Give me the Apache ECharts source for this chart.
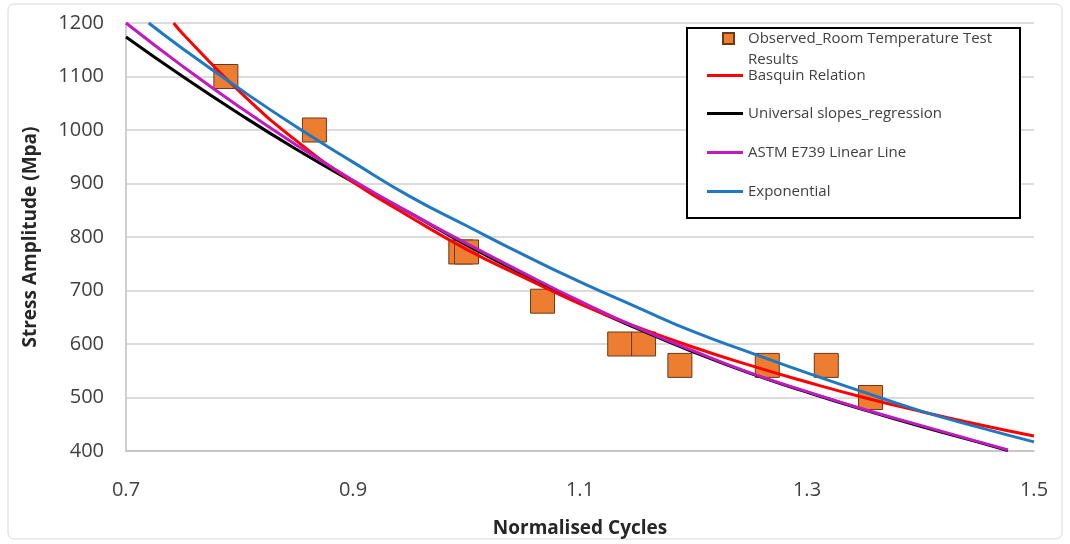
<!DOCTYPE html>
<html>
<head>
<meta charset="utf-8">
<script src="https://cdn.jsdelivr.net/npm/echarts@6/dist/echarts.min.js"></script>
<style>
html,body{margin:0;padding:0;background:#fff;}
#c{width:1070px;height:544px;}
</style>
</head>
<body>
<div id="c"></div>
<script>
// ---- data ----
const xTickLabels = ['0.7', '0.9', '1.1', '1.3', '1.5'];
const obsX = [0.788, 0.866, 0.995, 1.0, 1.067, 1.135, 1.156, 1.188, 1.265, 1.317, 1.356];
const obsY = [1100, 1000, 772, 772, 680, 600, 600, 560, 560, 560, 500];

const basquinX = [0.742, 0.75, 0.80, 0.85, 0.90, 0.95, 1.00, 1.05, 1.10, 1.15, 1.20, 1.25, 1.30, 1.35, 1.40, 1.45, 1.50];
const basquinY = [1200, 1180, 1072, 980, 903, 838, 777, 725, 675, 632, 594, 560, 529, 500, 474, 450, 428];

const universalX = [0.70, 0.75, 0.80, 0.85, 0.90, 0.95, 1.00, 1.05, 1.10, 1.15, 1.20, 1.25, 1.30, 1.35, 1.40, 1.45, 1.477];
const universalY = [1174, 1100, 1030, 964, 903, 845, 785, 730, 677, 629, 585, 545, 510, 477, 446, 417, 401];

const astmX = [0.70, 0.75, 0.80, 0.85, 0.90, 0.95, 1.00, 1.05, 1.10, 1.15, 1.20, 1.25, 1.30, 1.35, 1.40, 1.45, 1.477];
const astmY = [1200, 1119, 1043, 972, 906, 845, 788, 733, 680, 631, 587, 546, 511, 478, 448, 418, 402];

const expoX = [0.72, 0.75, 0.80, 0.85, 0.90, 0.95, 1.00, 1.05, 1.10, 1.15, 1.20, 1.25, 1.30, 1.35, 1.40, 1.45, 1.50];
const expoY = [1200, 1152, 1077, 1006, 940, 876, 821, 767, 716, 669, 623, 584, 546, 510, 475, 445, 417];

const names = ['Observed_Room Temperature Test\nResults', 'Basquin Relation', 'Universal slopes_regression', 'ASTM E739 Linear Line', 'Exponential'];

function pairs(xs, ys) { return xs.map((x, i) => [x, ys[i]]); }

const FONT = '"Open Sans", Lato, sans-serif';
const chart = echarts.init(document.getElementById('c'), null, {renderer: 'canvas'});

function lineSeries(name, xs, ys, color, z) {
  return {
    name: name, type: 'line', data: pairs(xs, ys), smooth: 0.5,
    showSymbol: false, symbol: 'none', z: z,
    lineStyle: {color: color, width: 3},
    itemStyle: {color: color},
    emphasis: {disabled: true}
  };
}

function lineLegend(name, top) {
  return {
    data: [name], left: 707, top: top, orient: 'vertical',
    icon: 'rect', itemWidth: 36, itemHeight: 3, itemGap: 0, padding: 0, z: 10,
    textStyle: {fontFamily: FONT, fontSize: 15, color: '#404040'},
    selectedMode: false
  };
}

const option = {
  animation: false,
  backgroundColor: '#fff',
  grid: {left: 126, right: 36, top: 23, bottom: 93, containLabel: false},
  graphic: [
    {type: 'rect', shape: {x: 8, y: 4, width: 1054, height: 535, r: 6}, style: {fill: 'none', stroke: '#d9d9d9', lineWidth: 1}, z: -10},
    {type: 'rect', shape: {x: 687, y: 28, width: 333, height: 190}, style: {fill: '#fff', stroke: '#000', lineWidth: 2}, z: 3}
  ],
  legend: [
    {
      data: [names[0]], left: 722, top: 7, orient: 'vertical', z: 10,
      icon: 'rect', itemWidth: 11, itemHeight: 11, padding: 0,
      formatter: function (n) { return ' \n' + n; },
      textStyle: {fontFamily: FONT, fontSize: 15, color: '#404040', lineHeight: 21, padding: [0, 0, 0, 9]},
      selectedMode: false
    },
    lineLegend(names[1], 68),
    lineLegend(names[2], 106),
    lineLegend(names[3], 145),
    lineLegend(names[4], 184)
  ],
  xAxis: {
    type: 'value', min: 0.7, max: 1.5, interval: 0.1,
    name: 'Normalised Cycles', nameLocation: 'middle', nameGap: 68,
    nameTextStyle: {fontFamily: FONT, fontSize: 19, fontWeight: 'bold', color: '#262626'},
    axisLine: {show: true, lineStyle: {color: '#bfbfbf', width: 1.5}},
    axisTick: {show: false},
    splitLine: {show: false},
    axisLabel: {
      margin: 29, fontFamily: FONT, fontSize: 20, color: '#404040',
      formatter: function (v) { const s = v.toFixed(1); return xTickLabels.indexOf(s) >= 0 ? s : ''; }
    }
  },
  yAxis: {
    type: 'value', min: 400, max: 1200, interval: 100,
    name: 'Stress Amplitude (Mpa)', nameLocation: 'middle', nameGap: 86,
    nameTextStyle: {fontFamily: FONT, fontSize: 19, fontWeight: 'bold', color: '#262626'},
    axisLine: {show: true, lineStyle: {color: '#bfbfbf', width: 1.5}},
    axisTick: {show: false},
    splitLine: {show: true, lineStyle: {color: '#d0d0d0', width: 1.5}},
    axisLabel: {margin: 22, fontFamily: FONT, fontSize: 20, color: '#404040', formatter: function (v) { return String(v); }}
  },
  series: [
    {
      name: names[0], type: 'scatter', data: pairs(obsX, obsY), symbol: 'rect', symbolSize: 24, z: 1,
      itemStyle: {color: '#ED7D31', borderColor: '#6b3a17', borderWidth: 1, opacity: 1},
      emphasis: {disabled: true}
    },
    lineSeries(names[2], universalX, universalY, '#000000', 2),
    lineSeries(names[1], basquinX, basquinY, '#ff0000', 3),
    lineSeries(names[3], astmX, astmY, '#bf1bbf', 4),
    lineSeries(names[4], expoX, expoY, '#1f78c1', 5)
  ]
};
chart.setOption(option);
</script>
</body>
</html>
